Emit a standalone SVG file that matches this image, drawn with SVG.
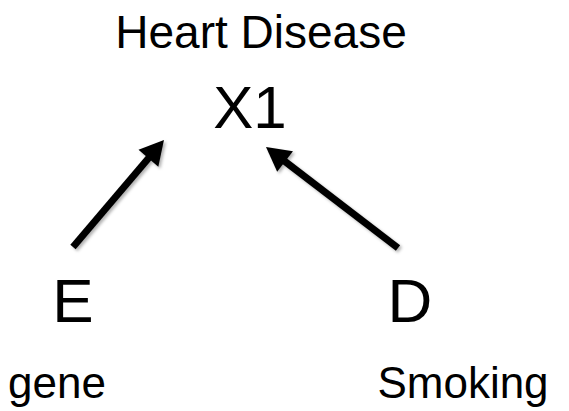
<svg xmlns="http://www.w3.org/2000/svg" width="569" height="411" viewBox="0 0 569 411">
  <style>
    text { font-family: "Liberation Sans", Arial, sans-serif; fill: #000; }
    .var { font-size: 60px; }
    .big { font-size: 62px; }
    .lbl { font-size: 44px; }
    .title { font-size: 46px; }
    .edge { stroke: #000; stroke-width: 7; fill: none; marker-end: url(#head); filter: url(#shade); }
  </style>
  <defs>
    <marker id="head" markerUnits="userSpaceOnUse" viewBox="-8 -16 32 32" markerWidth="32" markerHeight="32" refX="0" refY="0" orient="auto" overflow="visible">
      <path d="M-6,-13 L18,0 L-6,13 z" fill="#000"/>
    </marker>
    <filter id="shade" x="-20%" y="-20%" width="140%" height="140%">
      <feDropShadow dx="2" dy="2" stdDeviation="1.5" flood-color="#000" flood-opacity="0.3"/>
    </filter>
  </defs>

  <g id="x1">
    <text class="title" x="261" y="48" text-anchor="middle">Heart Disease</text>
    <text class="var" x="250" y="128" text-anchor="middle">X1</text>
  </g>
  <g id="e">
    <text class="big" x="73" y="322" text-anchor="middle">E</text>
    <text class="lbl" x="57" y="398" text-anchor="middle">gene</text>
  </g>
  <g id="d">
    <text class="big" x="410" y="322" text-anchor="middle">D</text>
    <text class="lbl" x="463" y="398" text-anchor="middle">Smoking</text>
  </g>

  <g id="connectors">
    <line class="edge" x1="73" y1="247" x2="152.3" y2="153.7"/>
    <line class="edge" x1="398" y1="248" x2="280.3" y2="157.9"/>
  </g>
</svg>
